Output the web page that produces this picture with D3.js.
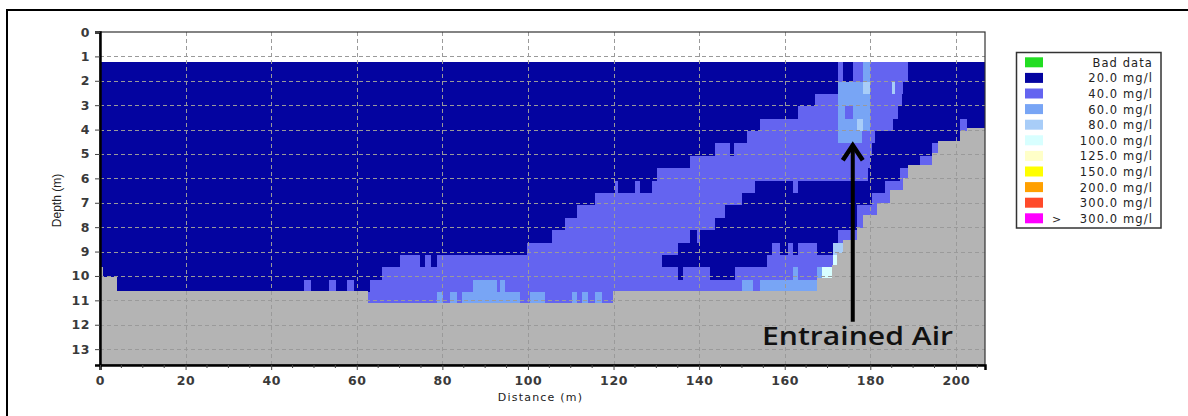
<!DOCTYPE html>
<html>
<head>
<meta charset="utf-8">
<script src="https://cdn.jsdelivr.net/npm/d3@7"></script>
<style>
  html, body { margin: 0; padding: 0; background: #fff; }
  svg { display: block; }
</style>
</head>
<body>
<svg id="chart" width="1188" height="416"></svg>
<script>
// Concentration classes, in legend order (index 0 = bad data)
const classLabels = ["Bad data", "20.0 mg/l", "40.0 mg/l", "60.0 mg/l", "80.0 mg/l", "100.0 mg/l",
                     "125.0 mg/l", "150.0 mg/l", "200.0 mg/l", "300.0 mg/l", "300.0 mg/l"];
const classPrefix = ["", "", "", "", "", "", "", "", "", "", ">"];
const classColors = ["#22dd22", "#0404a0", "#6464f0", "#78a5f5", "#a8cdf8", "#d8ffff",
                     "#ffffc8", "#ffff00", "#ffa000", "#ff4a2a", "#ff00ff"];

// Depth bin edges (m): first bin is the partial surface bin
const binEdges = [1.23, 1.52, 2.03, 2.54, 3.04, 3.55, 4.06, 4.57, 5.08, 5.58, 6.09,
                  6.60, 7.11, 7.62, 8.12, 8.63, 9.14, 9.65, 10.16, 10.66, 11.17];

// Each depth bin: runs of [start distance (m), class]; a run lasts until the next start
const row00 = [[0,1],[172.4,2],[173.6,1],[175.9,2],[178.3,3],[179.9,2],[188.8,1]];
const row01 = [[0,1],[172.4,2],[173.6,1],[175.9,2],[178.3,3],[179.9,2],[188.8,1]];
const row02 = [[0,1],[172.4,3],[178.3,4],[179.9,2],[185.0,4],[185.7,2],[187.6,1]];
const row03 = [[0,1],[167.1,2],[172.4,3],[179.9,2],[187.4,1]];
const row04 = [[0,1],[163.1,2],[172.4,3],[174.1,2],[175.9,3],[179.9,2],[186.4,1]];
const row05 = [[0,1],[154.2,2],[172.4,3],[176.9,4],[178.3,3],[179.9,2],[185.3,1],[200.9,2],[202.6,1]];
const row06 = [[0,1],[151.2,2],[172.4,3],[178.0,2],[181.1,1]];
const row07 = [[0,1],[143.7,2],[147.2,1],[148.1,2],[180.4,1],[194.4,2]];
const row08 = [[0,1],[137.9,2],[179.9,1],[191.6,2]];
const row09 = [[0,1],[130.1,2],[179.4,1],[186.9,2]];
const row10 = [[0,1],[120.3,2],[121.0,1],[125.0,2],[126.2,1],[129.0,2],[153.0,1],[161.9,2],[163.1,1],[183.4,2]];
const row11 = [[0,1],[115.7,2],[150.0,1],[180.4,2]];
const row12 = [[0,1],[111.4,2],[146.0,1],[176.9,2]];
const row13 = [[0,1],[108.6,2],[143.7,1],[176.9,2]];
const row14 = [[0,1],[105.6,2],[137.9,1],[139.5,2],[140.2,1],[172.4,2]];
const row15 = [[0,1],[99.8,2],[135.0,1],[157.0,2],[158.9,1],[160.7,2],[161.9,1],[163.1,2],[167.5,1],[171.3,4]];
const row16 = [[0,1],[70.1,2],[74.8,1],[75.9,2],[77.3,1],[78.7,2],[131.3,1],[155.8,2],[171.3,5]];
const row17 = [[0,1],[65.9,2],[135.0,1],[136.2,2],[142.5,1],[148.4,2],[161.9,3],[163.1,2],[167.5,3],[168.7,5]];
const row18 = [[0,1],[47.7,2],[49.3,1],[53.5,2],[55.1,1],[57.7,2],[59.3,1],[63.1,2],[87.1,3],[92.8,2],
               [93.5,3],[94.6,2],[150.0,3],[152.6,2],[154.2,3]];
const row19 = [[0,2],[78.7,3],[80.1,2],[81.8,3],[83.4,2],[84.6,3],[98.1,2],[100.5,3],[104.0,2],[110.3,3],
               [111.4,2],[112.6,3],[114.0,2],[115.7,3],[117.3,2]];
const rows = [row00,row01,row02,row03,row04,row05,row06,row07,row08,row09,
              row10,row11,row12,row13,row14,row15,row16,row17,row18,row19];

// Bottom-track profile: depth (m) from each start distance onward
const bottomX     = [0, 0.7, 4.0, 62.6, 119.9, 167.5, 171.0, 172.2, 173.6, 176.9, 178.3,
                     181.5, 184.6, 187.6, 188.8, 194.4, 195.8, 200.9, 202.6];
const bottomDepth = [9.63, 10.04, 10.62, 11.12, 10.62, 10.07, 9.55, 9.04, 8.53, 8.02, 7.51,
                     7.00, 6.49, 5.98, 5.47, 4.96, 4.45, 4.05, 3.93];

const xTicks = [0, 20, 40, 60, 80, 100, 120, 140, 160, 180, 200];
const xMinorStep = 5;
const yTicks = [0, 1, 2, 3, 4, 5, 6, 7, 8, 9, 10, 11, 12, 13];

const xMax = 206.8, yMax = 13.65;

const svg = d3.select("#chart");
const W = 1188, H = 416;
const plot = { left: 100, right: 985, top: 32, bottom: 365 };

const x = d3.scaleLinear().domain([0, xMax]).range([plot.left, plot.right]);
const y = d3.scaleLinear().domain([0, yMax]).range([plot.top, plot.bottom]);

// outer frame
svg.append("rect").attr("x", 7).attr("y", 10).attr("width", W + 20).attr("height", H + 20)
  .attr("fill", "#fff").attr("stroke", "#000").attr("stroke-width", 2);

const g = svg.append("g");

// concentration cells
rows.forEach((runs, r) => {
  runs.forEach((run, i) => {
    const x0 = run[0];
    const x1 = i + 1 < runs.length ? runs[i + 1][0] : xMax;
    g.append("rect")
      .attr("x", x(x0)).attr("y", y(binEdges[r]))
      .attr("width", x(x1) - x(x0)).attr("height", y(binEdges[r + 1]) - y(binEdges[r]))
      .attr("fill", classColors[run[1]])
      .attr("shape-rendering", "crispEdges");
  });
});

// river bed below the bottom track
const bedPts = bottomX.map((d, i) => ({ x: d, d: bottomDepth[i] }));
bedPts.push({ x: xMax, d: bottomDepth[bottomDepth.length - 1] });
const bedArea = d3.area()
  .curve(d3.curveStepAfter)
  .x(p => x(p.x)).y0(y(yMax)).y1(p => y(p.d));
g.append("path").datum(bedPts).attr("d", bedArea)
  .attr("fill", "#b4b4b4").attr("shape-rendering", "crispEdges");

// dashed grid
const grid = svg.append("g").attr("stroke", "#9a9a9a").attr("stroke-width", 1)
  .attr("stroke-dasharray", "4,3").attr("shape-rendering", "crispEdges");
yTicks.filter(t => t > 0).forEach(t => {
  grid.append("line").attr("x1", plot.left).attr("x2", plot.right)
    .attr("y1", Math.round(y(t)) + 0.5).attr("y2", Math.round(y(t)) + 0.5);
});
xTicks.filter(t => t > 0).forEach(t => {
  grid.append("line").attr("y1", plot.top).attr("y2", plot.bottom)
    .attr("x1", Math.round(x(t)) + 0.5).attr("x2", Math.round(x(t)) + 0.5);
});

// plot frame
svg.append("rect").attr("x", plot.left).attr("y", plot.top)
  .attr("width", plot.right - plot.left).attr("height", plot.bottom - plot.top)
  .attr("fill", "none").attr("stroke", "#333").attr("stroke-width", 1.2);

// axes
const fontFam = "'DejaVu Sans', Verdana, sans-serif";
const yAxis = d3.axisLeft(y).tickValues(yTicks).tickSize(5).tickPadding(5).tickFormat(d3.format("d"));
const yg = svg.append("g").attr("transform", `translate(${plot.left},0)`).call(yAxis);
const xAxis = d3.axisBottom(x).tickValues(xTicks).tickSize(5).tickPadding(6).tickFormat(d3.format("d"));
const xg = svg.append("g").attr("transform", `translate(0,${plot.bottom})`).call(xAxis);
[yg, xg].forEach(ax => {
  ax.select(".domain").attr("stroke", "#000").attr("stroke-width", 2.5);
  ax.selectAll(".tick line").attr("stroke", "#444");
  ax.selectAll(".tick text").attr("font-family", fontFam).attr("font-size", 12.5)
    .attr("font-weight", "bold").attr("letter-spacing", "0.6px").attr("fill", "#3a3a3a");
});
// minor distance ticks
const minor = d3.range(0, xMax, xMinorStep).filter(v => v % 20 !== 0);
svg.append("g").selectAll("line").data(minor).join("line")
  .attr("x1", d => x(d)).attr("x2", d => x(d))
  .attr("y1", plot.bottom).attr("y2", plot.bottom + 3)
  .attr("stroke", "#444");

// axis titles
svg.append("text").attr("x", (plot.left + plot.right) / 2 - 2).attr("y", 401)
  .attr("text-anchor", "middle").attr("font-family", fontFam).attr("font-size", 11)
  .attr("letter-spacing", "1.2px").attr("fill", "#222").text("Distance (m)");
svg.append("text").attr("transform", `translate(61,${(plot.top + plot.bottom) / 2 + 2}) rotate(-90)`)
  .attr("text-anchor", "middle").attr("font-family", "'Liberation Sans', Arial, sans-serif")
  .attr("font-size", 12).attr("fill", "#222").text("Depth (m)");

// annotation: arrow pointing at the plume of entrained air
const arrowX = 175.9, arrowTip = 4.56, arrowTail = 11.88;
const ann = svg.append("g");
ann.append("line").attr("x1", x(arrowX)).attr("x2", x(arrowX))
  .attr("y1", y(arrowTail)).attr("y2", y(arrowTip) + 3)
  .attr("stroke", "#000").attr("stroke-width", 4);
ann.append("path")
  .attr("d", `M${x(arrowX) - 10},${y(arrowTip) + 17} L${x(arrowX)},${y(arrowTip) + 2} L${x(arrowX) + 10},${y(arrowTip) + 17}`)
  .attr("fill", "none").attr("stroke", "#000").attr("stroke-width", 4.5)
  .attr("stroke-linejoin", "miter");
ann.append("text").attr("x", x(154.7)).attr("y", y(12.83))
  .attr("font-family", "'Open Sans', 'Noto Sans', sans-serif").attr("font-weight", 600)
  .attr("font-size", 26).attr("fill", "#111")
  .attr("textLength", 191).attr("lengthAdjust", "spacingAndGlyphs")
  .text("Entrained Air");

// legend
const leg = svg.append("g");
const legTop = 62.3, legStep = 15.6;
leg.append("rect").attr("x", 1016.5).attr("y", 52.5).attr("width", 144.5).attr("height", 175.5)
  .attr("fill", "#fff").attr("stroke", "#333").attr("stroke-width", 1.5);
classLabels.forEach((lab, i) => {
  const cy = legTop + i * legStep;
  leg.append("rect").attr("x", 1025).attr("y", cy - 5).attr("width", 18).attr("height", 10)
    .attr("fill", classColors[i]);
  leg.append("text").attr("x", 1153).attr("y", cy + 4.5).attr("text-anchor", "end")
    .attr("font-family", fontFam).attr("font-size", 11.5).attr("letter-spacing", "1.1px")
    .attr("fill", "#222").text(lab);
  if (classPrefix[i]) {
    leg.append("text").attr("x", 1052).attr("y", cy + 4.5)
      .attr("font-family", fontFam).attr("font-size", 11).attr("fill", "#222").text(classPrefix[i]);
  }
});
</script>
</body>
</html>
